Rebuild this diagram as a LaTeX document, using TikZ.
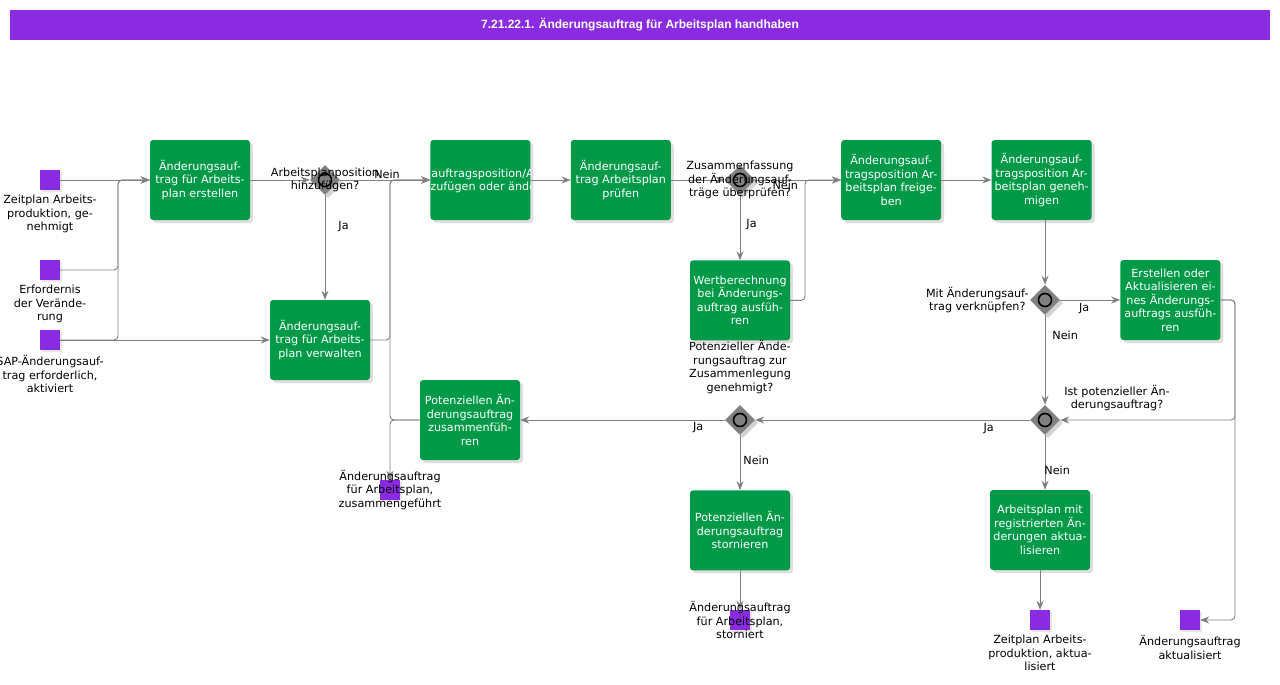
\documentclass[tikz,border=0pt]{standalone}
\usepackage{fontspec}
\setmainfont{DejaVu Sans}
\newfontfamily\titlefont{Liberation Sans}
\usepackage{xcolor}
\definecolor{colorTask}{RGB}{0,153,72}
\definecolor{colorEvent}{RGB}{138,43,226}
\definecolor{colorFlow}{RGB}{128,128,128}
\definecolor{colorGate}{RGB}{128,128,128}
\usetikzlibrary{arrows.meta, positioning, shapes.geometric, shadows}
\tikzset{
  task/.style={rectangle, rounded corners=3pt, fill=colorTask, text=white, minimum width=100pt, minimum height=80pt, inner sep=0pt, align=center, drop shadow={shadow xshift=3pt, shadow yshift=-3pt, opacity=0.25}},
  gate/.style={diamond, fill=colorGate, minimum width=30pt, minimum height=30pt, inner sep=0pt, drop shadow={shadow xshift=3pt, shadow yshift=-3pt, opacity=0.35}, path picture={\draw[line width=1.6pt] (path picture bounding box.center) circle (6.5pt);}},
  event/.style={rectangle, fill=colorEvent, minimum size=20pt, inner sep=0pt, drop shadow={shadow xshift=2pt, shadow yshift=-2pt, opacity=0.2}},
  lbl/.style={align=center, inner sep=1pt},
  flow/.style={-{Stealth[length=9pt, width=7pt]}, draw=colorFlow, line width=0.9pt, rounded corners=4pt},
}

\begin{document}
\begin{tikzpicture}[x=1pt, y=-1pt, font=\fontsize{11.2}{13.5}\selectfont, label distance=4pt]
\useasboundingbox (0,0) rectangle (1280,685);
\node[fill=colorEvent, minimum width=1260pt, minimum height=30pt, inner sep=0pt, text=white, font=\titlefont\bfseries\fontsize{12}{14}\selectfont] (title) at (640,25) {7.21.22.1. Änderungsauftrag für Arbeitsplan handhaben};

% start events
\node[event, label={[lbl]below:{Zeitplan Arbeits-\\produktion, ge-\\nehmigt}}] (s1) at (50,180) {};
\node[event, label={[lbl]below:{Erfordernis\\der Verände-\\rung}}] (s2) at (50,270) {};
\node[event, label={[lbl]below:{SAP-Änderungsauf-\\trag erforderlich,\\aktiviert}}] (s3) at (50,340) {};

% tasks
\node[task] (t1) at (200,180) {Änderungsauf-\\trag für Arbeits-\\plan erstellen};
\node[task] (t2) at (320,340) {Änderungsauf-\\trag für Arbeits-\\plan verwalten};
\node[task, right=180pt of t1, path picture={\node[text=white, align=center, anchor=center] at (path picture bounding box.center) {Änderungsauftragsposition/Arbeitsplan\\hinzufügen oder ändern};}] (t3) {};
\node[task, right=40pt of t3] (t4) {Änderungsauf-\\trag Arbeitsplan\\prüfen};
\node[task, right=170pt of t4] (t6) {Änderungsauf-\\tragsposition Ar-\\beitsplan freige-\\ben};
\node[task, right=50pt of t6] (t7) {Änderungsauf-\\tragsposition Ar-\\beitsplan geneh-\\migen};

% gateways
\node[gate] (g1) at (325,180) {};
\node[gate] (g2) at (740,180) {};
\node[gate] (g3) at (1045,300) {};
\node[gate] (g4) at (1045,420) {};
\node[gate] (g5) at (740,420) {};

\node[task, below=65pt of g2] (t5) {Wertberechnung\\bei Änderungs-\\auftrag ausfüh-\\ren};
\node[task, right=60pt of g3] (t8) {Erstellen oder\\Aktualisieren ei-\\nes Änderungs-\\auftrags ausfüh-\\ren};
\node[task] (t9) at (470,420) {Potenziellen Än-\\derungsauftrag\\zusammenfüh-\\ren};
\node[task, below=55pt of g5] (t10) {Potenziellen Än-\\derungsauftrag\\stornieren};
\node[task] (t11) at (1040,530) {Arbeitsplan mit\\registrierten Än-\\derungen aktua-\\lisieren};

% end events
\node[event] (e1) at (390,490) {};
\node[event] (e2) at (740,620) {};
\node[event, label={[lbl]below:{Zeitplan Arbeits-\\produktion, aktua-\\lisiert}}] (e3) at (1040,620) {};
\node[event, label={[lbl]below:{Änderungsauftrag\\aktualisiert}}] (e4) at (1190,620) {};

\coordinate (j1) at (118,180);
\coordinate (j2) at (390,180);
\coordinate (j3) at (805,180);
\coordinate (j4) at (1235,420);
\coordinate (j5) at (1235,620);

% flows
\draw[flow] (s1) -- (t1);
\draw[flow] (s2.east) -| (j1) -- (t1.west);
\draw[flow] (s3.east) -| (j1) -- (t1.west);
\draw[flow] (s3) -- (t2);
\draw[flow] (t1) -- (g1);
\draw[flow] (g1) -- node[lbl, above, pos=0.52] {Nein} (t3);
\draw[flow] (g1) -- node[lbl, right=12pt, pos=0.3] {Ja} (g1 |- t2.north);
\draw[flow] (t2.east) -| (j2) -- (t3.west);
\draw[flow] (t9.west) -| (j2) -- (t3.west);
\draw[flow] (t9.west) -| (e1.north);
\draw[flow] (t3) -- (t4);
\draw[flow] (t4) -- (g2);
\draw[flow] (g2) -- node[lbl, below, pos=0.35] {Nein} (t6);
\draw[flow] (g2) -- node[lbl, right=5pt, pos=0.45] {Ja} (t5);
\draw[flow] (t5.east) -| (j3) -- (t6.west);
\draw[flow] (t6) -- (t7);
\draw[flow] (t7.south -| g3) -- (g3);
\draw[flow] (g3) -- node[lbl, below=2pt, pos=0.4] {Ja} (t8);
\draw[flow] (g3) -- node[lbl, right=6pt, pos=0.22] {Nein} (g4);
\draw[flow] (t8.east) -| (j4) -- (g4.east);
\draw[flow] (t8.east) -| (j5) -- (e4.east);
\draw[flow] (g4) -- node[lbl, below=2pt, pos=0.15] {Ja} (g5);
\draw[flow] (g4) -- node[lbl, right=-2pt, pos=0.64] {Nein} (g4 |- t11.north);
\draw[flow] (t11) -- (e3);
\draw[flow] (g5) -- node[lbl, below=1pt, pos=0.13] {Ja} (t9);
\draw[flow] (g5) -- node[lbl, right=2pt, pos=0.45] {Nein} (t10);
\draw[flow] (t10) -- (e2);

% gateway questions
\node[lbl] (q1) at (g1) {Arbeitsplanposition\\hinzufügen?};
\node[lbl] (q2) at (g2) {Zusammenfassung\\der Änderungsauf-\\träge überprüfen?};
\node[lbl, anchor=east] (q3) at (g3.west) {Mit Änderungsauf-\\trag verknüpfen?};
\node[lbl] (q4) at (1117,398) {Ist potenzieller Än-\\derungsauftrag?};
\node[lbl] (q5) at (740,367) {Potenzieller Ände-\\rungsauftrag zur\\Zusammenlegung\\genehmigt?};
\node[lbl] (n1) at (e1) {Änderungsauftrag\\für Arbeitsplan,\\zusammengeführt};
\node[lbl] (n2) at (e2) {Änderungsauftrag\\für Arbeitsplan,\\storniert};
\end{tikzpicture}
\end{document}
